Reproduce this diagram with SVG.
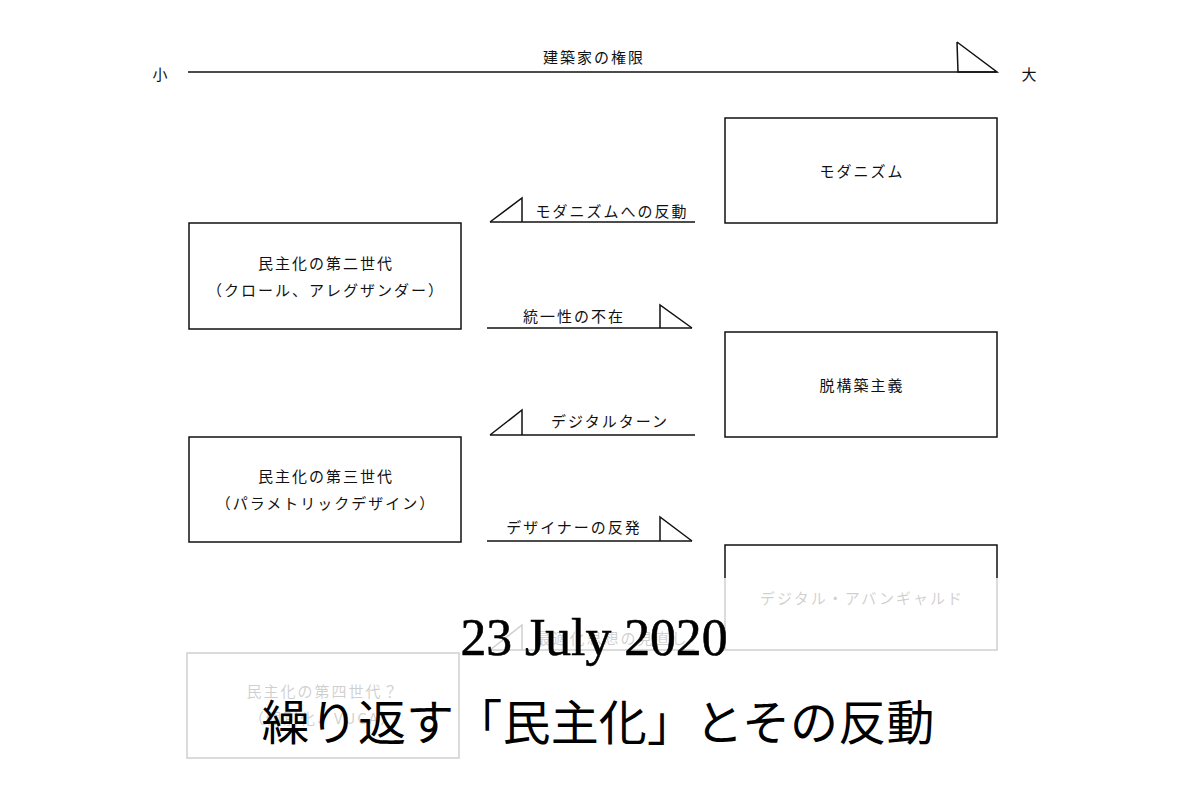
<svg xmlns="http://www.w3.org/2000/svg" width="1191" height="794" viewBox="0 0 1191 794">
<style>
.t{font-family:"Noto Sans CJK JP","Noto Sans",sans-serif;font-size:15px;letter-spacing:2px;fill:#111;text-anchor:middle}
.b{fill:none;stroke:#111;stroke-width:1.5}
.l{fill:none;stroke:#111;stroke-width:1.5}
.ttl{font-family:"Liberation Serif","Noto Sans CJK JP",serif;fill:#000;text-anchor:middle}
</style>
<rect width="1191" height="794" fill="#fff"/>
<g id="axis">
<text class="t" x="161" y="80">小</text>
<text class="t" x="1030" y="80">大</text>
<text class="t" x="594" y="63">建築家の権限</text>
<line class="l" x1="188" y1="72" x2="997" y2="72"/>
<polyline class="l" points="957,42 958,72 997,72 957,42"/>
</g>
<g id="connectors">
<g id="c1"><line class="l" x1="490" y1="222" x2="695" y2="222"/><polyline class="l" points="490,222 522,198 522,222"/><text class="t" x="612" y="217">モダニズムへの反動</text></g>
<g id="c2"><line class="l" x1="487" y1="328" x2="692" y2="328"/><polyline class="l" points="660,328 660,305 692,328"/><text class="t" x="574" y="322">統一性の不在</text></g>
<g id="c3"><line class="l" x1="490" y1="435" x2="695" y2="435"/><polyline class="l" points="490,435 522,410 522,435"/><text class="t" x="610" y="427">デジタルターン</text></g>
<g id="c4"><line class="l" x1="487" y1="541" x2="692" y2="541"/><polyline class="l" points="660,541 660,517 692,541"/><text class="t" x="574" y="533">デザイナーの反発</text></g>
<g id="c5"><line class="l" x1="490" y1="650" x2="695" y2="650"/><polyline class="l" points="490,650 522,625 522,650"/><text class="t" x="612" y="644">最適化思想の見直し</text></g>
</g>
<g id="n1"><rect class="b" x="725" y="118" width="272" height="105"/><text class="t" x="862" y="177">モダニズム</text></g>
<g id="n2"><rect class="b" x="189" y="223" width="272" height="106"/><text class="t" x="326" y="269">民主化の第二世代</text><text class="t" x="326" y="296">（クロール、アレグザンダー）</text></g>
<g id="n3"><rect class="b" x="725" y="332" width="272" height="105"/><text class="t" x="862" y="391">脱構築主義</text></g>
<g id="n4"><rect class="b" x="189" y="437" width="272" height="105"/><text class="t" x="326" y="482">民主化の第三世代</text><text class="t" x="326" y="509">（パラメトリックデザイン）</text></g>
<g id="n5"><rect class="b" x="725" y="545" width="272" height="105"/><text class="t" x="862" y="604">デジタル・アバンギャルド</text></g>
<g id="n6"><rect class="b" x="187" y="653" width="272" height="105"/><text class="t" x="323" y="697">民主化の第四世代？</text><text class="t" x="323" y="724">（個別化、VUCA）</text></g>
<rect id="fade" x="0" y="578" width="1191" height="216" fill="#fff" fill-opacity="0.8"/>
<g id="title">
<text class="ttl" x="594" y="655" font-size="53" textLength="267" lengthAdjust="spacingAndGlyphs" stroke="#000" stroke-width="0.6">23 July 2020</text>
<text class="ttl" x="598" y="740" font-size="48" textLength="673" lengthAdjust="spacing">繰り返す「民主化」とその反動</text>
</g>
</svg>
